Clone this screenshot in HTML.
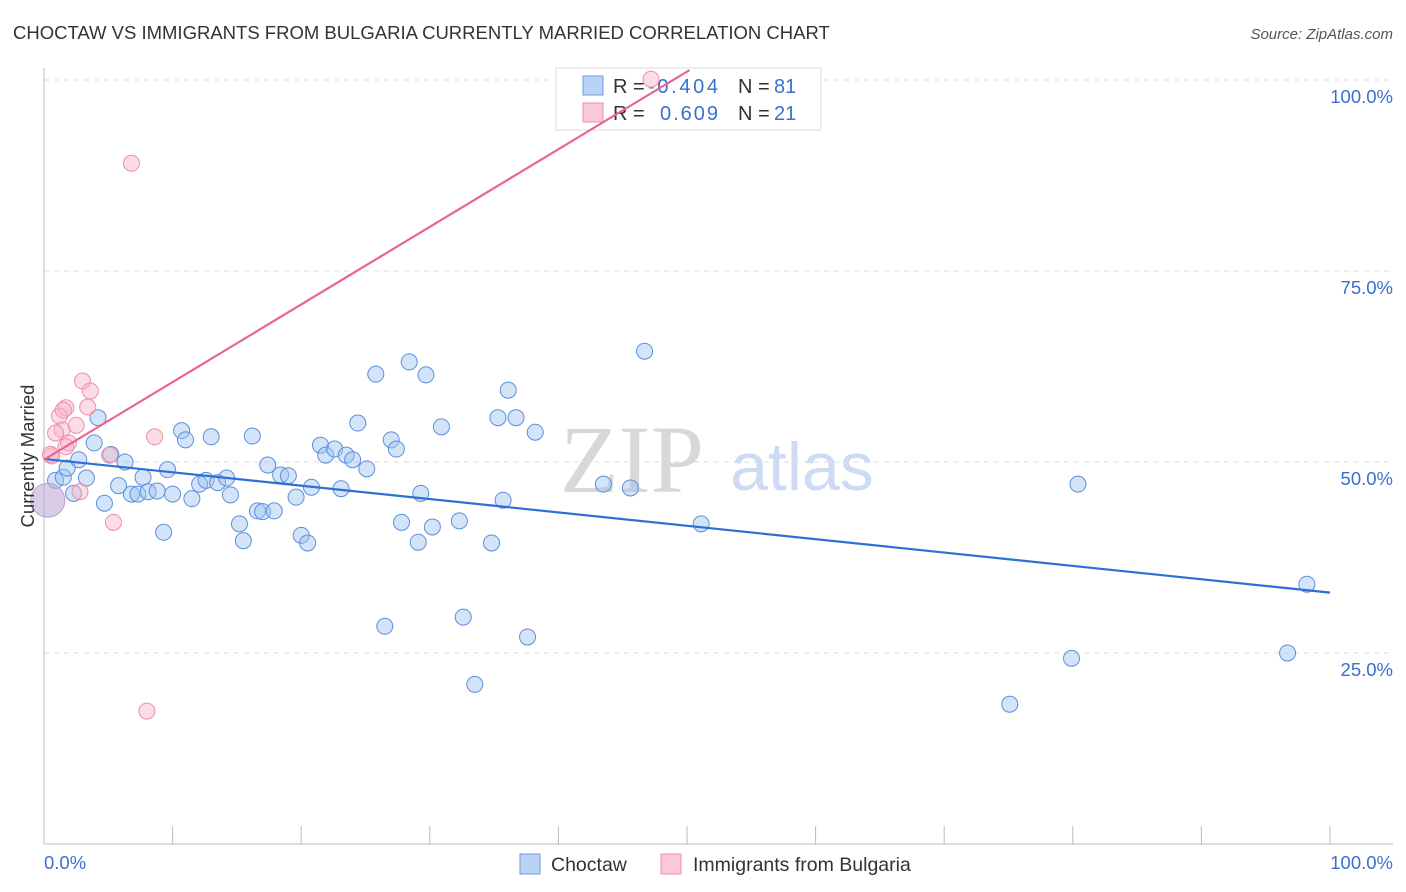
<!DOCTYPE html>
<html><head><meta charset="utf-8">
<style>
body{margin:0;background:#fff;width:1406px;height:892px;overflow:hidden;font-family:"Liberation Sans",sans-serif;}
svg{position:absolute;left:0;top:0}
</style></head>
<body>
<svg width="1406" height="892">
<text x="13" y="39" font-size="18.5" fill="#333">CHOCTAW VS IMMIGRANTS FROM BULGARIA CURRENTLY MARRIED CORRELATION CHART</text>
<text x="1393" y="39" font-size="15" fill="#555" font-style="italic" text-anchor="end">Source: ZipAtlas.com</text>
<g id="grid"></g>
<text x="632" y="492" font-size="96" fill="#d8d8d8" font-family="Liberation Serif,serif" text-anchor="middle">ZIP</text>
<text x="802" y="490" font-size="68" fill="#cddcf3" text-anchor="middle">atlas</text>
<g>
<rect x="556" y="68" width="265" height="62" fill="#fff" stroke="#ddd"/>
<rect x="583" y="76" width="20" height="19" fill="#b9d2f5" stroke="#6e9be0"/>
<rect x="583" y="103" width="20" height="19" fill="#fbc8d7" stroke="#ec8fab"/>
<text x="613" y="93" font-size="20" fill="#333">R = </text>
<text x="648" y="93" font-size="20" fill="#3a6fd4" textLength="70">-0.404</text>
<text x="738" y="93" font-size="20" fill="#333">N = </text>
<text x="774" y="93" font-size="20" fill="#3a6fd4">81</text>
<text x="613" y="120" font-size="20" fill="#333">R = </text>
<text x="660" y="120" font-size="20" fill="#3a6fd4" textLength="58">0.609</text>
<text x="738" y="120" font-size="20" fill="#333">N = </text>
<text x="774" y="120" font-size="20" fill="#3a6fd4">21</text>
</g>
<g id="marks"></g>
<text transform="translate(34,456) rotate(-90)" font-size="18.5" fill="#333" text-anchor="middle">Currently Married</text>
<text x="44" y="869" font-size="18.5" fill="#3a6fd4">0.0%</text>
<text x="1393" y="869" font-size="18.5" fill="#3a6fd4" text-anchor="end">100.0%</text>
<g>
<rect x="520" y="854" width="20" height="20" fill="#b9d2f5" stroke="#6e9be0"/>
<text x="551" y="871" font-size="19.5" fill="#333">Choctaw</text>
<rect x="661" y="854" width="20" height="20" fill="#fbc8d7" stroke="#ec8fab"/>
<text x="693" y="871" font-size="19.5" fill="#333">Immigrants from Bulgaria</text>
</g>
</svg>
<script>
const yTicks=[100,75,50,25];
const yTickLabels=["100.0%","75.0%","50.0%","25.0%"];
const xTicks=[0,10,20,30,40,50,60,70,80,90,100];
const blueX=[0.9,1.5,1.8,2.3,2.7,3.3,3.9,4.2,4.7,5.2,5.8,6.3,6.8,7.3,7.7,8.1,8.8,9.3,9.6,10.0,10.7,11.0,11.5,12.1,12.6,13.0,13.5,14.2,14.5,15.2,15.5,16.2,16.6,17.0,17.4,17.9,18.4,19.0,19.6,20.0,20.5,20.8,21.5,21.9,22.6,23.1,23.5,24.0,24.4,25.1,25.8,26.5,27.0,27.4,27.8,28.4,29.1,29.3,29.7,30.2,30.9,32.3,32.6,33.5,34.8,35.3,35.7,36.1,36.7,37.6,38.2,43.5,45.6,46.7,51.1,75.1,79.9,80.4,96.7,98.2];
const blueY=[47.6,48.0,49.2,45.9,50.3,47.9,52.5,55.8,44.6,51.0,46.9,50.0,45.8,45.8,48.0,46.1,46.2,40.8,49.0,45.8,54.1,52.9,45.2,47.1,47.6,53.3,47.3,47.9,45.7,41.9,39.7,53.4,43.6,43.5,49.6,43.6,48.3,48.2,45.4,40.4,39.4,46.7,52.2,50.9,51.7,46.5,50.9,50.3,55.1,49.1,61.5,28.5,52.9,51.7,42.1,63.1,39.5,45.9,61.4,41.5,54.6,42.3,29.7,20.9,39.4,55.8,45.0,59.4,55.8,27.1,53.9,47.1,46.6,64.5,41.9,18.3,24.3,47.1,25.0,34.0];
const pinkX=[47.2,6.8,3.0,3.6,1.7,3.4,1.2,2.5,1.4,0.9,1.9,1.7,8.6,5.1,0.6,2.8,5.4,8.0,0.5,1.5];
const pinkY=[100.1,89.1,60.6,59.3,57.1,57.2,56.0,54.8,54.2,53.8,52.5,52.0,53.3,50.9,50.8,46.1,42.1,17.4,51.0,56.8];
const bigX=[0.3], bigY=[45.0];
const blueTrend=[[0,50.4],[100,32.9]];
const pinkTrend=[[0,50.3],[50.2,101.3]];
const sx=v=>44+v*12.86, sy=v=>844-v*7.64;
const NS="http://www.w3.org/2000/svg";
const grid=document.getElementById('grid'), marks=document.getElementById('marks');
function mk(tag,attrs,parent){const e=document.createElementNS(NS,tag);for(const k in attrs)e.setAttribute(k,attrs[k]);parent.appendChild(e);return e;}
yTicks.forEach((t,i)=>{
 const l=mk('line',{x1:44,x2:1393,y1:sy(t),y2:sy(t),stroke:'#ddd','stroke-dasharray':'5,5'},grid);
 
 
 const tx=mk('text',{x:1393,y:sy(t)+23,'font-size':18.5,fill:'#3a6fd4','text-anchor':'end'},grid);
 tx.textContent=yTickLabels[i];
 
 
});
const ax=mk('line',{x1:44,x2:1393,y1:844,y2:844,stroke:'#bbb'},grid);


const ay=mk('line',{x1:44,x2:44,y1:68,y2:844,stroke:'#bbb'},grid);


xTicks.forEach(t=>{
 const l=mk('line',{x1:sx(t),x2:sx(t),y1:826,y2:844,stroke:'#bbb'},grid);
 
 
});
blueX.forEach((x,i)=>{
 const c=mk('circle',{cx:sx(x),cy:sy(blueY[i]),r:8,fill:'rgba(160,195,240,0.45)',stroke:'#5b8fdc','stroke-width':1},marks);
 
 
});
pinkX.forEach((x,i)=>{
 const c=mk('circle',{cx:sx(x),cy:sy(pinkY[i]),r:8,fill:'rgba(248,180,200,0.45)',stroke:'#ec8fab','stroke-width':1},marks);
 
 
});
bigX.forEach((x,i)=>{
 const c=mk('circle',{cx:sx(x),cy:sy(bigY[i]),r:17,fill:'rgba(190,170,215,0.6)',stroke:'#b9a3d6','stroke-width':1},marks);
 
 
});
const bl=mk('line',{x1:sx(blueTrend[0][0]),y1:sy(blueTrend[0][1]),x2:sx(blueTrend[1][0]),y2:sy(blueTrend[1][1]),stroke:'#2d6fd6','stroke-width':2.2},marks);


const pl=mk('line',{x1:sx(pinkTrend[0][0]),y1:sy(pinkTrend[0][1]),x2:sx(pinkTrend[1][0]),y2:sy(pinkTrend[1][1]),stroke:'#e8668f','stroke-width':2.2},marks);


</script>
</body></html>
